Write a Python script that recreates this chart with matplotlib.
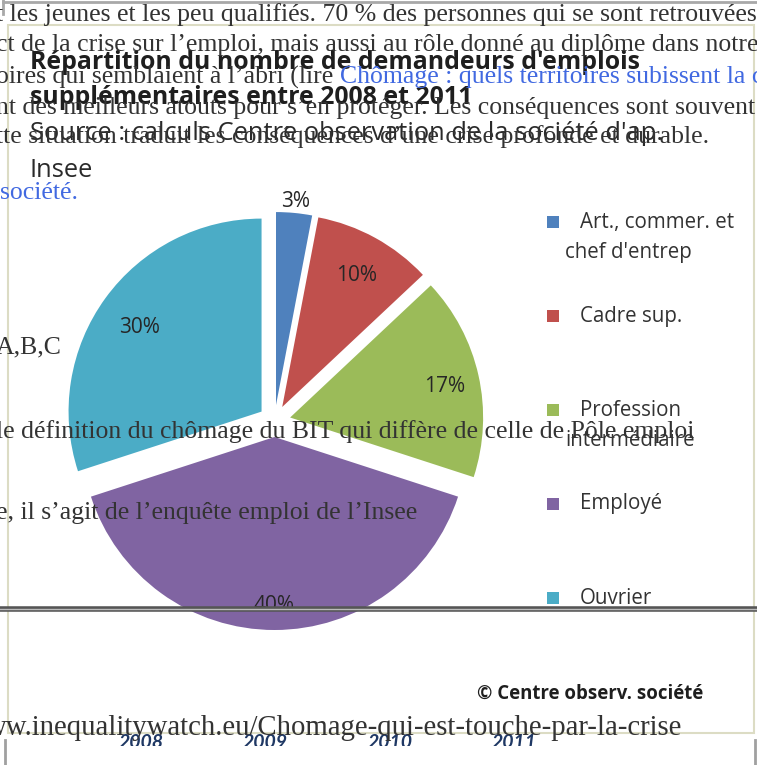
"""Pie chart: new job seekers by occupation 2008-2011, over a web page screenshot"""
import numpy as np
import matplotlib.pyplot as plt
from matplotlib.patches import Rectangle

# Data
categories = ["Art., commer. et\nchef d'entrep", "Cadre sup.",
              "Profession\nintermédiaire", "Employé", "Ouvrier"]
shares = [3, 10, 17, 40, 30]
colors = ['#4F81BD', '#C0504D', '#9BBB59', '#8064A2', '#4BACC6']
years = ['2008', '2009', '2010', '2011']

title_lines = ["Répartition du nombre de demandeurs d'emplois",
               "supplémentaires entre 2008 et 2011"]
source_lines = ["Source : calculs Centre observation de la société d'ap.",
                "Insee"]
credit = "© Centre observ. société"

# page text lying over the chart: (plain text, link text)
page_texts = [
    ("t les jeunes et les peu qualifiés. 70 % des personnes qui se sont retrouvées", ""),
    ("ct de la crise sur l\u2019emploi, mais aussi au rôle donné au diplôme dans notre s", ""),
    ("oires qui semblaient à l\u2019abri (lire ", "Chômage : quels territoires subissent la crise"),
    ("nt des meilleurs atouts pour s\u2019en protéger. Les conséquences sont souvent", ""),
    ("tte situation traduit les conséquences d\u2019une crise profonde et durable.", ""),
    ("", "société."),
    ("A,B,C", ""),
    ("le définition du chômage du BIT qui diffère de celle de Pôle emploi", ""),
    ("e, il s\u2019agit de l\u2019enquête emploi de l\u2019Insee", ""),
]
url_text = "ww.inequalitywatch.eu/Chomage-qui-est-touche-par-la-crise"

W, H = 757, 765
def Y(v):
    return H - v

fig = plt.figure(figsize=(W / 100, H / 100), dpi=100)
ax = fig.add_axes([0, 0, 1, 1])

# Pie
radius = 193
wedges, _ = ax.pie(shares, colors=colors, startangle=90, counterclock=False,
                   radius=radius, center=(274.5, Y(421)), explode=[16] * 5,
                   wedgeprops=dict(linewidth=0))

# percentage labels
label_dist = [1.08, 0.80, 0.82, 0.85, 0.78]
for w, d, s in zip(wedges, label_dist, shares):
    th = np.deg2rad((w.theta1 + w.theta2) / 2)
    cx, cy = w.center
    ax.text(cx + d * w.r * np.cos(th), cy + d * w.r * np.sin(th) - 4, f'{s}%',
            ha='center', va='center', fontsize=15, family='Open Sans', color='#262626')

ax.set_xlim(0, W)
ax.set_ylim(0, H)
ax.set_aspect('auto')
ax.axis('off')

# Frames and rules
ax.add_patch(Rectangle((8, Y(733)), 746, 733 - 25, fill=False,
                       edgecolor='#dcdcc4', linewidth=1.5, zorder=1))
ax.plot([3, W], [Y(2), Y(2)], color='#a8a8a8', lw=2, zorder=1)
ax.plot([3, 3], [Y(0), Y(14)], color='#a8a8a8', lw=2, zorder=1)
ax.plot([0, W], [Y(609), Y(609)], color='#555555', lw=4, zorder=6)
ax.plot([0, W], [Y(609), Y(609)], color='#bbbbbb', lw=1, zorder=6)
ax.plot([5, 5], [Y(740), 0], color='#a0a0a0', lw=2, zorder=6)
ax.plot([755, 755], [Y(740), 0], color='#a0a0a0', lw=2, zorder=6)

# Title and source
for i, line in enumerate(title_lines):
    ax.text(30, Y(62 + 35 * i), line, ha='left', va='center', fontsize=17.9,
            family='Open Sans', fontweight='bold', color='#1e1e1e', zorder=5)
for i, line in enumerate(source_lines):
    ax.text(30, Y(133 + 37 * i), line, ha='left', va='center', fontsize=18.4,
            family='Open Sans', color='#2a2a2a', zorder=5)

# Legend
for i, (lab, col) in enumerate(zip(categories, colors)):
    yc = 222 + 94 * i
    ax.add_patch(Rectangle((547, Y(yc + 6)), 12, 12, facecolor=col,
                           edgecolor='none', zorder=5))
    for j, part in enumerate(lab.split('\n')):
        ax.text(580 if j == 0 else 565, Y(yc + 30 * j), part, ha='left',
                va='center', fontsize=14.8, family='Open Sans', color='#333333', zorder=5)

ax.text(703, Y(694), credit, ha='right', va='center', fontsize=13.4,
        family='Open Sans', fontweight='bold', color='#1e1e1e', zorder=5)

# year ticks of the chart below, lower half hidden
for i, yr in enumerate(years):
    ax.text(141 + 124.5 * i, Y(742), yr, ha='center', va='center',
            fontsize=14, family='Lato', fontweight='bold',
            fontstyle='italic', color='#1f3864', zorder=4)
ax.add_patch(Rectangle((0, 0), W, Y(746), facecolor='white',
                       edgecolor='none', zorder=4.5))

# Page text on top
page_rows = [15, 45, 77, 108, 137, 193, 347, 432, 513]
fig.canvas.draw()
for yc, (plain, link) in zip(page_rows, page_texts):
    x0 = -4 if plain else 0
    if plain:
        t = ax.text(x0, Y(yc), plain, ha='left', va='center', fontsize=18.5,
                    family='Liberation Serif', color='#333333', zorder=8)
        bb = t.get_window_extent(renderer=fig.canvas.get_renderer())
        x0 = bb.x1
    if link:
        ax.text(x0, Y(yc), link, ha='left', va='center', fontsize=18.5,
                family='Liberation Serif', color='#4169E1', zorder=8)

ax.text(-14, Y(728), url_text, ha='left', va='center', fontsize=20.7,
        family='Liberation Serif', color='#333333', zorder=8)

fig.savefig('out.png', dpi=100)
